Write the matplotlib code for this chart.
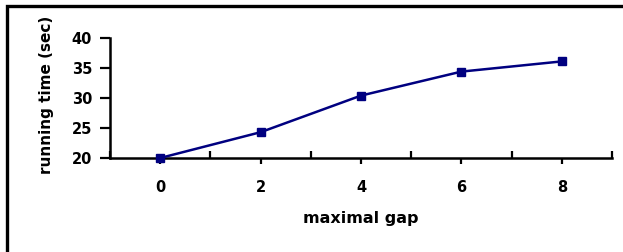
import matplotlib
matplotlib.use("Agg")
import matplotlib.pyplot as plt
from matplotlib.patches import Rectangle

# data
gaps = ["0", "2", "4", "6", "8"]
times = [20.0, 24.3, 30.4, 34.4, 36.1]

plt.rcParams['font.family'] = ['DejaVu Sans']
plt.rcParams['font.weight'] = 'bold'

fig = plt.figure(figsize=(6.23, 2.52), dpi=100)
ax = fig.add_axes([110 / 623, 1 - 158 / 252, 502 / 623, 120 / 252])

x = list(range(len(gaps)))
ax.plot(x, times, color='#000080', lw=1.8, marker='s', ms=5.5, clip_on=False, zorder=3)

ax.set_xlim(-0.5, len(gaps) - 0.5)
ax.set_ylim(20, 40)
ax.set_yticks([20, 25, 30, 35, 40])

# category boundaries (major, inside) and centres (minor, outside, labelled)
ax.set_xticks([i - 0.5 for i in range(len(gaps) + 1)])
ax.set_xticks(x, minor=True)
ax.set_xticklabels([], minor=False)
ax.set_xticklabels(gaps, minor=True)
ax.tick_params(axis='x', which='major', direction='in', length=5, width=1.6)
ax.tick_params(axis='x', which='minor', direction='out', length=4, width=1.6,
               labelsize=10.5, pad=12)
ax.tick_params(axis='y', direction='out', length=7, width=1.6, labelsize=10.5, pad=6)

for s in ['top', 'right']:
    ax.spines[s].set_visible(False)
for s in ['left', 'bottom']:
    ax.spines[s].set_linewidth(1.8)

ax.set_xlabel('maximal gap', fontsize=11.5, fontweight='bold')
ax.xaxis.set_label_coords(0.5, -0.44)
ax.set_ylabel('running time (sec)', fontsize=11, fontweight='bold')
ax.yaxis.set_label_coords(-0.112, 0.53)

# outer frame
fig.patches.append(Rectangle((7 / 623, -0.1), 1.1, 1.1 - 6 / 252,
                             transform=fig.transFigure, fill=False,
                             lw=2.4, ec='black', zorder=10))

fig.savefig('out.png', dpi=100)
